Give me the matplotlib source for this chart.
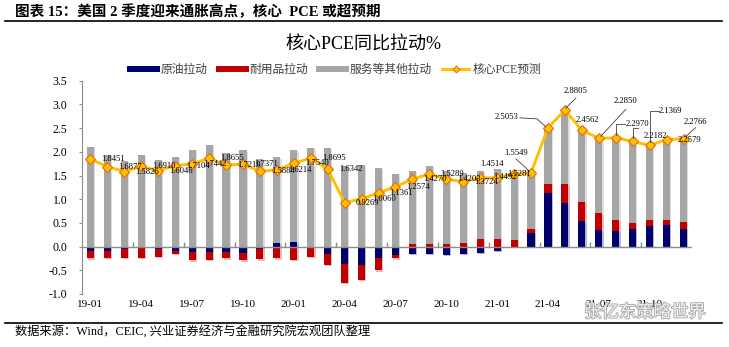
import numpy as np
import matplotlib
matplotlib.use("Agg")
import matplotlib.pyplot as plt
import matplotlib.transforms as mtransforms
from matplotlib.lines import Line2D
import matplotlib.patheffects as pe

plt.rcParams['font.family'] = ['Liberation Serif', 'Noto Sans CJK SC']
plt.rcParams['axes.unicode_minus'] = False

# 月度数据 19-01 ~ 21-12
months = [f"{y}-{m:02d}" for y in (19, 20, 21) for m in range(1, 13)]

crude = [-0.10, -0.09, -0.06, -0.03, -0.05, -0.09, -0.11, -0.11, -0.11, -0.13, -0.06, 0.07,
         0.10, -0.01, -0.16, -0.37, -0.39, -0.25, -0.18, -0.16, -0.16, -0.18, -0.16, -0.14,
         -0.09, -0.01, 0.29, 1.13, 0.91, 0.53, 0.34, 0.32, 0.37, 0.43, 0.45, 0.37]
durable = [-0.15, -0.14, -0.17, -0.21, -0.16, -0.07, -0.18, -0.17, -0.14, -0.16, -0.21, -0.25,
           -0.28, -0.21, -0.23, -0.40, -0.31, -0.25, -0.07, 0.05, 0.05, 0.05, 0.07, 0.17,
           0.17, 0.13, 0.09, 0.20, 0.42, 0.41, 0.36, 0.25, 0.13, 0.14, 0.12, 0.15]
services = [2.10, 1.93, 1.80, 1.93, 1.83, 1.89, 2.04, 2.15, 1.97, 2.03, 1.85, 1.81,
            1.94, 2.08, 2.07, 1.71, 1.72, 1.65, 1.53, 1.55, 1.66, 1.55, 1.49, 1.43,
            1.47, 1.35, 1.19, 1.17, 1.55, 1.51, 1.59, 1.72, 1.73, 1.57, 1.70, 1.73]
core = [1.8451, 1.6877, 1.5826, 1.6910, 1.6046, 1.7104, 1.7442, 1.8655, 1.7219, 1.7371, 1.5884, 1.6214,
        1.7540, 1.8695, 1.6342, 0.9269, 1.0060, 1.1361, 1.2574, 1.4270, 1.5289, 1.4203, 1.3724, 1.4514,
        1.4492, 1.5281, 1.5549, 2.5053, 2.8805, 2.4562, 2.2850, 2.2970, 2.2182, 2.1369, 2.2579, 2.2766]

series_names = ['原油拉动', '耐用品拉动', '服务等其他拉动']
colors = ['#00006a', '#c00000', '#a6a6a6']
shadows = ['#b8b8d0', '#f0b8b8', '#dedede']

fig = plt.figure(figsize=(7.29, 3.47), dpi=100)
ax = fig.add_axes([82 / 729, 1 - 294 / 347, 610 / 729, 213.3 / 347])

x = np.arange(len(months))
pos_bottom = np.zeros(len(x))
neg_bottom = np.zeros(len(x))
shadow_tr = ax.transData + mtransforms.ScaledTranslation(1.2 / 100, -1.2 / 100, fig.dpi_scale_trans)
for vals, c, sc in zip([crude, durable, services], colors, shadows):
    vals = np.array(vals)
    bottom = np.where(vals >= 0, pos_bottom, neg_bottom)
    ax.bar(x, vals, width=0.42, bottom=bottom, color=sc, transform=shadow_tr, zorder=1)
    ax.bar(x, vals, width=0.42, bottom=bottom, color=c, zorder=2)
    pos_bottom += np.clip(vals, 0, None)
    neg_bottom += np.clip(vals, None, 0)

ax.axhline(0, color='#8c8c8c', lw=1, zorder=2.5)
ax.plot(np.arange(2.5, 35, 3), np.zeros(11), ls='none', marker=2, ms=3.5,
        mew=1, color='#8c8c8c', zorder=2.5)

ax.plot(x, core, color='#ffc000', lw=2.1, marker='D', ms=5, mfc='#ffc000',
        mec='#e46c0a', mew=0.8, zorder=3)

# 数据标签位置 (像素偏移) 及引导线
label_offsets = {23: (12, 14), 24: (8, 1), 25: (5, 0), 26: (-15, 20), 27: (-41, 11),
                 28: (11, 19), 29: (6, 10), 30: (27, 37), 31: (22, 14), 32: (23, 5),
                 33: (21, 34), 35: (12, 17)}
leaders = {26: [(-15, 14), (-2, 2)],
           27: [(-28, 10), (-11, 9), (-2, 1)],
           28: [(11, 12), (1, 2)],
           30: [(27, 29), (2, 2)],
           31: [(0, 3), (0, 14), (9, 14)],
           32: [(0, 3), (0, 13), (5, 13)],
           33: [(0, 3), (0, 34), (9, 34)],
           35: [(2, 2), (12, 11)]}

for i, v in enumerate(core):
    dx, dy = label_offsets.get(i, (23, 0))
    ax.annotate(f"{v:.4f}", xy=(i, v), xytext=(dx, dy), textcoords='offset pixels',
                ha='center', va='center', fontsize=6.2, zorder=5)
    if i in leaders:
        tr = mtransforms.IdentityTransform() + mtransforms.ScaledTranslation(i, v, ax.transData)
        xs, ys = zip(*leaders[i])
        ax.add_line(Line2D(xs, ys, transform=tr, color='#404040', lw=0.6,
                           zorder=4, clip_on=False))

ax.set_xlim(-0.5, 35.5)
ax.set_ylim(-1.0, 3.5)
ax.set_yticks(np.arange(-1.0, 3.51, 0.5))
ax.set_yticklabels([f"{t:.1f}" for t in np.arange(-1.0, 3.51, 0.5)], fontsize=8.5)
ax.set_xticks(x[::3])
ax.set_xticklabels(months[::3], fontsize=8)
ax.tick_params(axis='x', length=0, pad=4)
ax.tick_params(axis='y', length=2.5, width=0.8, color='#8c8c8c', pad=8)
for s in ['top', 'right', 'bottom']:
    ax.spines[s].set_visible(False)
ax.spines['left'].set_color('#8c8c8c')

handles = [Line2D([], [], color=c, lw=4.3) for c in colors]
handles.append(Line2D([], [], color='#ffc000', lw=2.1, marker='D', ms=3.5,
                      mfc='#ffc000', mec='#e46c0a', mew=0.7))
fig.legend(handles, series_names + ['核心PCE预测'], loc='center', ncol=4,
           bbox_to_anchor=(336 / 729, 1 - 70 / 347), frameon=False, fontsize=8.5,
           handlelength=2.3, columnspacing=0.9, handletextpad=0.3, labelcolor='#404040')

fig.text(363 / 729, 1 - 45 / 347, '核心PCE同比拉动%', fontsize=13, ha='center', va='center')

fig.text(15 / 729, 1 - 12 / 347, '图表 15：美国 2 季度迎来通胀高点，核心  PCE 或超预期',
         fontsize=10.5, fontweight='bold', ha='left', va='center')
fig.add_artist(Line2D([5 / 729, 722 / 729], [1 - 21 / 347] * 2, color='black', lw=1.2))
fig.add_artist(Line2D([5 / 729, 722 / 729], [1 - 322.5 / 347] * 2, color='black', lw=1.2))
fig.text(15 / 729, 1 - 331 / 347, '数据来源：Wind，CEIC, 兴业证券经济与金融研究院宏观团队整理',
         fontsize=8.8, ha='left', va='center')

fig.text(645 / 729, 1 - 313 / 347, '张亿东策略世界', fontsize=12.5, ha='center', va='center',
         color='white', alpha=0.85,
         path_effects=[pe.withStroke(linewidth=1.3, foreground='#9a9a9a')])

fig.savefig('out.png', dpi=100)
